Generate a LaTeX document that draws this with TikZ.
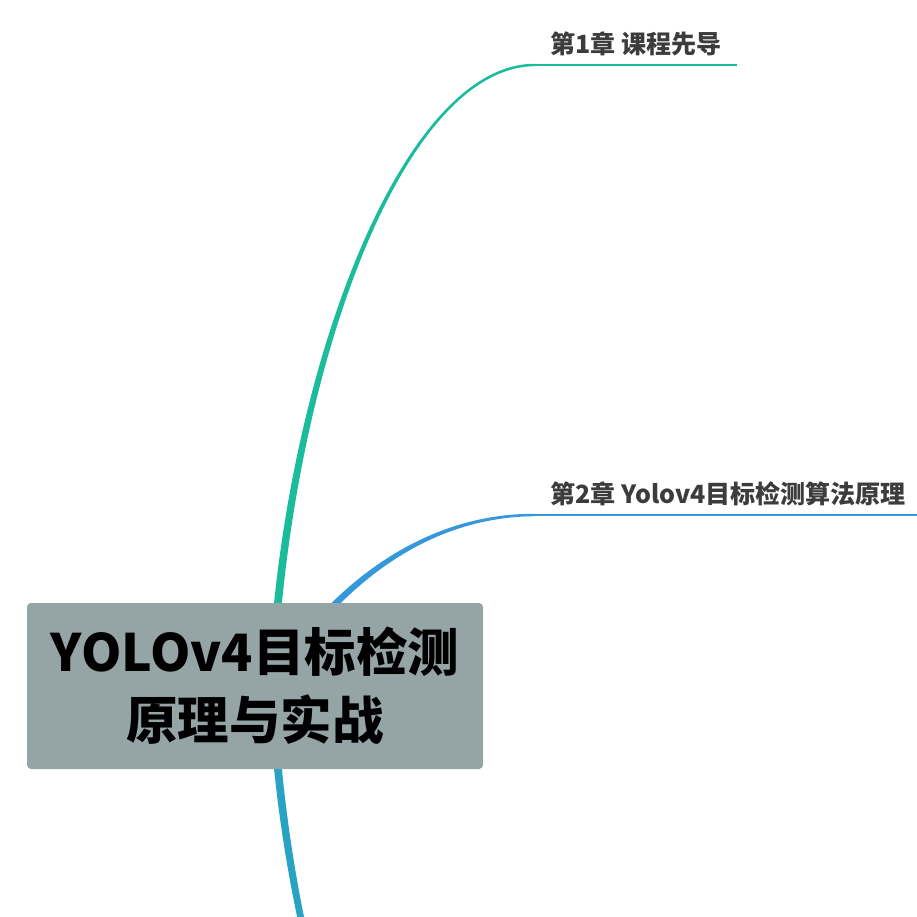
\documentclass[tikz,border=0pt]{standalone}
\usepackage{fontspec}
\setmainfont{Noto Sans CJK SC}
\usetikzlibrary{positioning,calc,backgrounds}
\definecolor{rootgray}{HTML}{95A5A6}
\definecolor{tealA}{HTML}{1ABC9C}
\definecolor{blueB}{HTML}{3498DB}
\definecolor{tealC}{HTML}{29A3C3}
\definecolor{labelgray}{HTML}{3C3C3C}
\tikzset{
    underline/.style={line width=1.5pt},
    every node/.style={inner sep=0pt}
}

\begin{document}
\begin{tikzpicture}[x=0.75pt,y=-0.75pt,
                    root/.style={rectangle,fill=rootgray,rounded corners=3pt,
                                 minimum width=342pt,minimum height=124.5pt,align=center,
                                 font=\fontsize{38.6}{51}\selectfont\bfseries},
                    chapter/.style={anchor=south west,inner xsep=11.25pt,inner ysep=0pt,
                                    text depth=8.25pt,text=labelgray,
                                    font=\fontsize{18.8}{22}\selectfont\bfseries}]

\useasboundingbox (0,0) rectangle (917,917);

% Topics
\node[root] (yolo) at (255,686) {YOLOv4目标检测\\原理与实战};
\node[chapter] (ch1) at (535,65) {第1章 课程先导};
\node[chapter] (ch2) at (535,515) {第2章 Yolov4目标检测算法原理};
\coordinate (hub) at (272,686);
\coordinate (ch3) at (535,1307);

% Branches
\begin{scope}[on background layer]
\fill[tealA] ($(hub)+(-4,0)$) .. controls (281,380) and (400,63) .. ($(ch1.south west)+(0,-1.2)$)
    -- ($(ch1.south west)+(0,1.2)$) .. controls (400,67) and (289,380) .. ($(hub)+(4,0)$) -- cycle;
\draw[tealA,underline] (ch1.south west) -- (ch1.south east);
\fill[blueB] ($(hub)+(-4,0)$) .. controls (306,617) and (400,513) .. ($(ch2.south west)+(0,-1.2)$)
    -- ($(ch2.south west)+(0,1.2)$) .. controls (400,517) and (314,623) .. ($(hub)+(4,0)$) -- cycle;
\draw[blueB,underline] (ch2.south west) -- (ch2.south east);
\fill[tealC] ($(hub)+(-4,0)$) .. controls (281,992) and (400,1309) .. ($(ch3)+(0,1.2)$)
    -- ($(ch3)+(0,-1.2)$) .. controls (400,1305) and (289,992) .. ($(hub)+(4,0)$) -- cycle;
\end{scope}

\end{tikzpicture}
\end{document}
